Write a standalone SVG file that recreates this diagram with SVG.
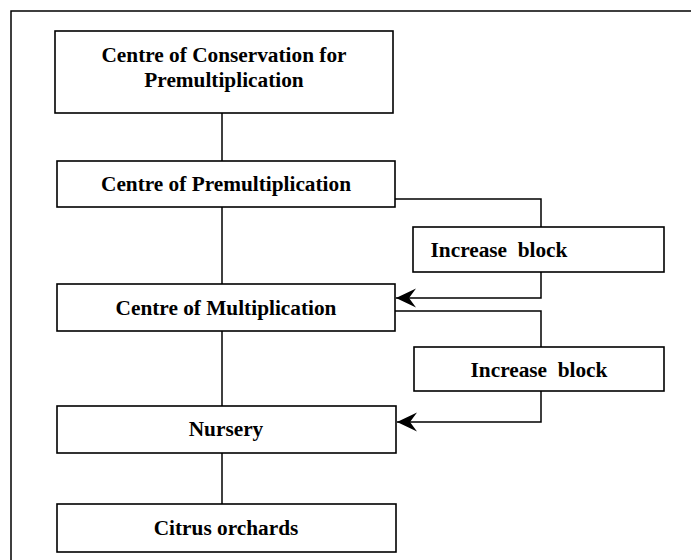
<svg xmlns="http://www.w3.org/2000/svg" width="691" height="560" viewBox="0 0 691 560">
<style>
.box{fill:#fff;stroke:#000;stroke-width:1.6}
.ln{fill:none;stroke:#000;stroke-width:1.5}
text{font-family:"Liberation Serif","Times New Roman",serif;font-weight:bold;font-size:21.3px;fill:#000;text-anchor:middle;white-space:pre}
</style>
<defs>
<marker id="ah" markerWidth="22" markerHeight="22" viewBox="0 0 22 22" refX="21" refY="11" orient="auto" markerUnits="userSpaceOnUse">
<path d="M1,1.5 L21,11 L1,20.5 L8,11 Z" fill="#000"/>
</marker>
</defs>
<rect width="691" height="560" fill="#fff"/>
<path class="ln" d="M11,560 V11 H691"/>
<g id="n1"><rect class="box" x="55" y="31" width="338" height="82"/><text x="224" y="62">Centre of Conservation for</text><text x="224" y="87">Premultiplication</text></g>
<g id="n2"><rect class="box" x="57" y="161" width="338" height="46"/><text x="226" y="191">Centre of Premultiplication</text></g>
<g id="n3"><rect class="box" x="413" y="227" width="251" height="45"/><text x="499" y="257">Increase  block</text></g>
<g id="n4"><rect class="box" x="57" y="284" width="338" height="47"/><text x="226" y="315">Centre of Multiplication</text></g>
<g id="n5"><rect class="box" x="414" y="347" width="250" height="44"/><text x="539" y="377">Increase  block</text></g>
<g id="n6"><rect class="box" x="57" y="406" width="339" height="47"/><text x="226" y="436">Nursery</text></g>
<g id="n7"><rect class="box" x="57" y="504" width="339" height="48"/><text x="226" y="535">Citrus orchards</text></g>
<g id="connectors">
<path class="ln" d="M222,113 V161"/>
<path class="ln" d="M222,207 V284"/>
<path class="ln" d="M222,331 V406"/>
<path class="ln" d="M222,453 V504"/>
<path class="ln" d="M395,199 H541 V227"/>
<path class="ln" d="M541,272 V298 H396" marker-end="url(#ah)"/>
<path class="ln" d="M395,311 H541 V347"/>
<path class="ln" d="M541,391 V422 H397" marker-end="url(#ah)"/>
</g>
</svg>
